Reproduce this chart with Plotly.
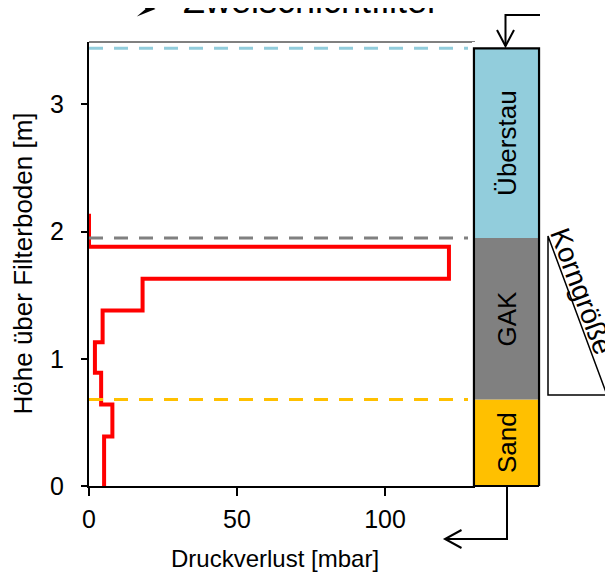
import plotly.graph_objects as go

# ---- data ----
heights = [2.14, 1.88, 1.63, 1.38, 1.13, 0.89, 0.64, 0.39, 0.0]          # m
pressure_loss = [0.0, 121.6, 18.1, 4.6, 2.0, 4.1, 7.9, 5.1, 5.1]         # mbar

layer_names = ["Sand", "GAK", "Überstau"]
layer_bottoms = [0.0, 0.68, 1.95]
layer_tops = [0.68, 1.95, 3.44]
layer_colors = ["#FFC000", "#808080", "#92CDDC"]

boundary_levels = [3.44, 1.95, 0.68]
boundary_colors = ["#92CDDC", "#808080", "#FFC000"]

x_ticks = [0, 50, 100]
y_ticks = [0, 1, 2, 3]

title_text = "Zweischichtfilter"
x_title = "Druckverlust [mbar]"
y_title = "Höhe über Filterboden [m]"
grain_text = "Korngröße"

FONT = "Arial, Liberation Sans, sans-serif"

# ---- layout geometry (page pixels; the figure sits 8px into the page) ----
OFF = 8
W, H = 613, 572
PL, PR, PT, PB = 89, 541, 42, 486       # paper area (page coords)
MAIN_R = 475                            # right edge of main plot
COL_L = 472                             # x2 domain left


def px(x, y):
    return ((x - PL) / (PR - PL), (PB - y) / (PB - PT))


def path(points, close=False):
    s = ""
    for i, (x, y) in enumerate(points):
        xp, yp = px(x, y)
        s += ("M" if i == 0 else "L") + f"{xp:.5f},{yp:.5f} "
    return s + ("Z" if close else "")


fig = go.Figure()

# red pressure-loss profile
fig.add_trace(go.Scatter(
    x=pressure_loss, y=heights, mode="lines",
    line=dict(color="#FF0000", width=4, shape="vh"),
    xaxis="x", yaxis="y", showlegend=False, hoverinfo="skip"))

# filter column as stacked bars
fig.add_trace(go.Bar(
    x=[0] * len(layer_names),
    y=[t - b for t, b in zip(layer_tops, layer_bottoms)],
    base=layer_bottoms, width=1,
    marker=dict(color=layer_colors, line=dict(width=0)),
    text=layer_names, textposition="inside", insidetextanchor="middle",
    textangle=-90, textfont=dict(family=FONT, size=26, color="black"),
    xaxis="x2", yaxis="y", showlegend=False, hoverinfo="skip"))

shapes = []
# frame (top / right) of main plot
shapes.append(dict(type="line", xref="x domain", yref="y domain", x0=0, x1=1, y0=1, y1=1,
                   line=dict(color="black", width=1), layer="below"))
shapes.append(dict(type="line", xref="x domain", yref="y domain", x0=1, x1=1, y0=0, y1=1,
                   line=dict(color="black", width=1), layer="below"))

# dashed boundary lines
for lvl, col in zip(boundary_levels, boundary_colors):
    shapes.append(dict(type="line", xref="x domain", yref="y",
                       x0=0, x1=(468 - PL) / (MAIN_R - PL), y0=lvl, y1=lvl,
                       line=dict(color=col, width=3, dash="14px,11px")))

# column outline
shapes.append(dict(type="rect", xref="x2", yref="y", x0=-0.5, x1=0.5,
                   y0=layer_bottoms[0], y1=layer_tops[-1],
                   line=dict(color="black", width=2.2), fillcolor="rgba(0,0,0,0)"))
shapes.append(dict(type="line", xref="x2", yref="paper", x0=-0.5, x1=0.5, y0=0, y1=0,
                   line=dict(color="black", width=2.2)))

# arrows (inlet top, outlet bottom)
arrow_line = dict(color="black", width=2)
shapes.append(dict(type="path", xref="paper", yref="paper",
                   path=path([(540, 15), (505.5, 15), (505.5, 46)]), line=arrow_line))
shapes.append(dict(type="path", xref="paper", yref="paper",
                   path=path([(497, 30), (505.5, 46), (514, 30)]), line=arrow_line))
shapes.append(dict(type="path", xref="paper", yref="paper",
                   path=path([(507, 487), (507, 539), (445, 539)]), line=arrow_line))
shapes.append(dict(type="path", xref="paper", yref="paper",
                   path=path([(461.5, 530), (445, 539), (461.5, 548)]), line=arrow_line))

# grain size triangle
shapes.append(dict(type="path", xref="paper", yref="paper",
                   path=path([(548, 236), (548, 395), (607, 395)], close=True),
                   line=dict(color="black", width=1.5), fillcolor="white"))

annotations = []
# bullet arrowhead before title (only its lower half is on the page)
hx, hy = px(155.5, 0.5)
annotations.append(dict(text="", xref="paper", yref="paper", x=hx, y=hy,
                        showarrow=True, arrowhead=3, arrowsize=2, arrowwidth=1.5,
                        arrowcolor="black", ax=-12, ay=0))
tx, ty = px(310.5, 1)
annotations.append(dict(text=title_text, xref="paper", yref="paper", x=tx, y=ty,
                        xanchor="center", yanchor="middle", showarrow=False,
                        font=dict(family=FONT, size=36, color="black")))
ax_, ay_ = px(275, 558)
annotations.append(dict(text=x_title, xref="paper", yref="paper", x=ax_, y=ay_,
                        xanchor="center", yanchor="middle", showarrow=False,
                        font=dict(family=FONT, size=24, color="black")))
bx_, by_ = px(22.5, 264)
annotations.append(dict(text=y_title, xref="paper", yref="paper", x=bx_, y=by_,
                        xanchor="center", yanchor="middle", showarrow=False, textangle=-90,
                        font=dict(family=FONT, size=26, color="black")))
kx, ky = px(582, 291)
annotations.append(dict(text=grain_text, xref="paper", yref="paper", x=kx, y=ky,
                        xanchor="center", yanchor="middle", showarrow=False, textangle=69.7,
                        font=dict(family=FONT, size=28, color="black")))

fig.update_layout(
    width=W, height=H,
    margin=dict(l=PL - OFF, r=W - (PR - OFF), t=PT - OFF, b=H - (PB - OFF), pad=0),
    paper_bgcolor="white", plot_bgcolor="white",
    barmode="overlay",
    showlegend=False,
    xaxis=dict(domain=[0, (MAIN_R - PL) / (PR - PL)], range=[0, 130.4],
               tickvals=x_ticks, ticktext=[str(v) for v in x_ticks],
               showgrid=False, zeroline=False, showline=True, linecolor="black", linewidth=2,
               ticks="outside", ticklen=8, tickwidth=2, tickcolor="black",
               tickfont=dict(family=FONT, size=25, color="black"),
               ticklabelstandoff=2, layer="below traces", anchor="y"),
    yaxis=dict(domain=[0, 1], range=[0, 3.49],
               tickvals=y_ticks, ticktext=[str(v) for v in y_ticks],
               showgrid=False, zeroline=False, showline=True, linecolor="black", linewidth=2,
               ticks="outside", ticklen=6, tickwidth=2, tickcolor="black",
               tickfont=dict(family=FONT, size=25, color="black"),
               ticklabelstandoff=12, layer="below traces", anchor="x"),
    xaxis2=dict(domain=[(COL_L - PL) / (PR - PL), 1], range=[-0.53, 0.53],
                visible=False, showgrid=False, zeroline=False, anchor="y", fixedrange=True),
    shapes=shapes,
    annotations=annotations,
)

fig.write_html("out.html")
